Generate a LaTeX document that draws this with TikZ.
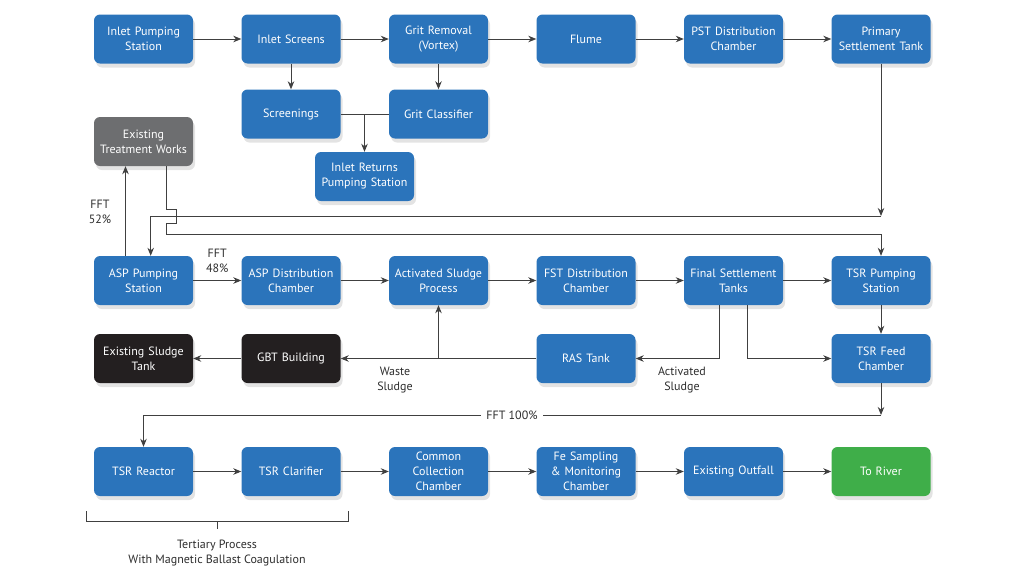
\documentclass[tikz,border=0pt]{standalone}
\usepackage{fontspec}
\setmainfont{PT Sans}
\usetikzlibrary{arrows.meta,shadows,calc}
\definecolor{boxblue}{RGB}{43,116,187}
\definecolor{boxgreen}{RGB}{63,174,73}
\definecolor{boxgray}{RGB}{109,110,112}
\definecolor{boxblack}{RGB}{35,31,32}
\definecolor{linegray}{RGB}{64,64,64}
\definecolor{labelgray}{RGB}{45,45,45}
\begin{document}
\begin{tikzpicture}[x=1pt,y=-1pt,
	>={Stealth[length=8pt,width=6.5pt,inset=2.5pt]},
	stage/.style={fill=boxblue, rounded corners=6pt, minimum width=99pt, minimum height=49pt,
		text width=97pt, align=center, text=white, inner sep=1pt,
		font=\fontsize{12}{15}\selectfont,
		drop shadow={shadow xshift=2pt, shadow yshift=-4pt, opacity=.22}},
	flow/.style={draw=linegray, line width=0.9pt},
	flowlabel/.style={text=labelgray, align=center, font=\fontsize{12}{15}\selectfont}]
	\useasboundingbox (0,0) rectangle (1024,576);
	
	%Zulauf
	\node[stage] (ips) at (143.5,39) {Inlet Pumping\\Station};
	\node[stage] (isc) at (291,39) {Inlet Screens};
	\node[stage] (grit) at (438.5,39) {Grit Removal\\(Vortex)};
	\node[stage] (flume) at (586,39) {Flume};
	\node[stage] (pstd) at (733.5,39) {PST Distribution\\Chamber};
	\node[stage] (pst) at (881,39) {Primary\\Settlement Tank};
	\node[stage] (scr) at (291,114) {Screenings};
	\node[stage] (gcl) at (438.5,114) {Grit Classifier};
	\node[stage] (irp) at (364.5,176.5) {Inlet Returns\\Pumping Station};
	\node[stage, fill=boxgray] (etw) at (143.5,141.5) {Existing\\Treatment Works};
	
	%Belebung
	\node[stage] (asp) at (143.5,280.5) {ASP Pumping\\Station};
	\node[stage] (aspd) at (291,280.5) {ASP Distribution\\Chamber};
	\node[stage] (asproc) at (438.5,280.5) {Activated Sludge\\Process};
	\node[stage] (fstd) at (586,280.5) {FST Distribution\\Chamber};
	\node[stage] (fst) at (733.5,280.5) {Final Settlement\\Tanks};
	\node[stage] (tsrp) at (881,280.5) {TSR Pumping\\Station};
	\node[stage, fill=boxblack] (est) at (143.5,358.5) {Existing Sludge\\Tank};
	\node[stage, fill=boxblack] (gbt) at (291,358.5) {GBT Building};
	\node[stage] (ras) at (586,358.5) {RAS Tank};
	\node[stage] (tsrf) at (881,358.5) {TSR Feed\\Chamber};
	
	%Tertiaer
	\node[stage] (tsrr) at (143.5,471.5) {TSR Reactor};
	\node[stage] (tsrc) at (291,471.5) {TSR Clarifier};
	\node[stage] (ccc) at (438.5,471.5) {Common\\Collection\\Chamber};
	\node[stage] (fesm) at (586,471.5) {Fe Sampling\\\& Monitoring\\Chamber};
	\node[stage] (eof) at (733.5,471.5) {Existing Outfall};
	\node[stage, fill=boxgreen] (river) at (881,471.5) {To River};
	
	%Pfeile oben
	\draw[flow,->] (ips) -- (isc);
	\draw[flow,->] (isc) -- (grit);
	\draw[flow,->] (grit) -- (flume);
	\draw[flow,->] (flume) -- (pstd);
	\draw[flow,->] (pstd) -- (pst);
	\draw[flow,->] (isc) -- (scr);
	\draw[flow,->] (grit) -- (gcl);
	\draw[flow] (scr) -- (gcl);
	\draw[flow,->] (scr.east -| irp.north) -- (irp.north);
	
	%Verbindungen zur Belebung
	\coordinate (k1) at (881,216);
	\coordinate (k2) at (150.7,216);
	\draw[flow,->] (pst) -- (k1);
	\draw[flow,->] (k1) -- (k2) -- (k2 |- asp.north);
	\coordinate (e1) at ($(etw.south)+(23,0)$);
	\draw[flow,->] (e1) -- ++(0,43.5) -- ++(9.5,0) -- ++(0,14) -- ++(-9.5,0) -- ++(0,11) -| (tsrp.north);
	\draw[flow,->] ($(asp.north)+(-18,0)$) -- ($(etw.south)+(-18,0)$);
	\node[flowlabel] (fft52) at (100,212) {FFT\\52\%};
	
	%Pfeile Mitte
	\draw[flow,->] (asp) -- (aspd) node[flowlabel, midway, above=4pt] (fft48) {FFT\\48\%};
	\draw[flow,->] (aspd) -- (asproc);
	\draw[flow,->] (asproc) -- (fstd);
	\draw[flow,->] (fstd) -- (fst);
	\draw[flow,->] (fst) -- (tsrp);
	\draw[flow,->] (tsrp) -- (tsrf);
	\draw[flow,->] ($(fst.south)+(-14.5,0)$) |- (ras.east);
	\draw[flow,->] ($(fst.south)+(14,0)$) |- (tsrf.west);
	\draw[flow,->] (ras) -- (gbt);
	\draw[flow,->] (asproc.south |- ras.west) -- (asproc.south);
	\draw[flow,->] (gbt) -- (est);
	\node[flowlabel] (waste) at (395,380) {Waste\\Sludge};
	\node[flowlabel] (actsl) at (682,380) {Activated\\Sludge};
	
	%FFT 100%
	\coordinate (k3) at (881,415);
	\draw[flow,->] (tsrf) -- (k3);
	\draw[flow,->] (k3) -| (tsrr.north);
	\node[flowlabel, fill=white, inner xsep=5pt] (fft100) at (512,415) {FFT 100\%};
	
	%Pfeile unten
	\draw[flow,->] (tsrr) -- (tsrc);
	\draw[flow,->] (tsrc) -- (ccc);
	\draw[flow,->] (ccc) -- (fesm);
	\draw[flow,->] (fesm) -- (eof);
	\draw[flow,->] (eof) -- (river);
	
	%Klammer
	\draw[flow] (86,511) -- (86,521) -- (348,521) -- (348,511);
	\draw[flow] (217.5,521) -- (217.5,529);
	\node[flowlabel] (tert) at (217,553) {Tertiary Process\\With Magnetic Ballast Coagulation};
\end{tikzpicture}
\end{document}
